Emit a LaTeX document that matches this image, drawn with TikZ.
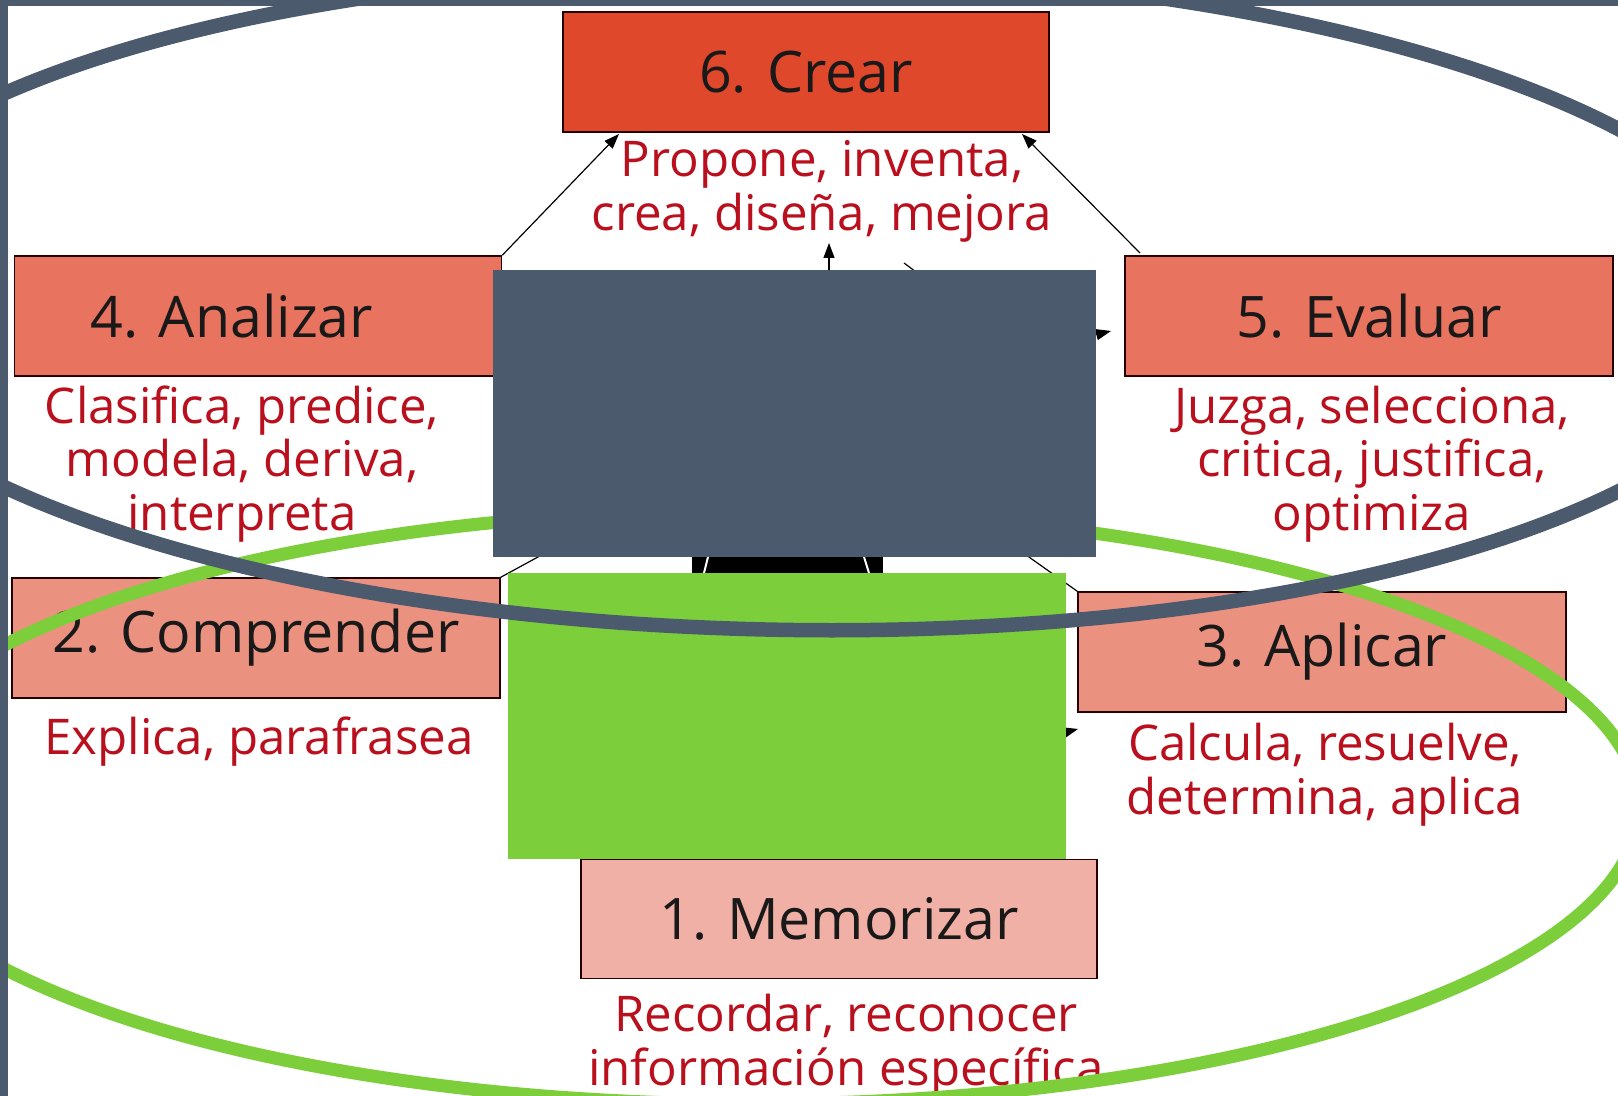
\documentclass[tikz,border=0pt]{standalone}
\usepackage{fontspec}
\setmainfont{Open Sans}
\usetikzlibrary{arrows.meta}

\definecolor{pizarra}{HTML}{4B5A6D}
\definecolor{hoja}{HTML}{7CCF3A}
\definecolor{rojocrear}{HTML}{E0482C}
\definecolor{salmonalto}{HTML}{E8735F}
\definecolor{salmonmedio}{HTML}{EA9180}
\definecolor{rosabajo}{HTML}{F0B0A6}
\definecolor{verbo}{HTML}{BA0F1D}

\tikzset{
  nivel/.style={draw=black!85!red, line width=0.15mm, minimum width=48.7mm,
    minimum height=12mm, inner sep=0pt, text=black!90,
    font=\fontsize{16.3}{19}\selectfont},
  verbos/.style={text=verbo, align=center, inner sep=0pt,
    font=\fontsize{14}{15.3}\selectfont},
  flecha/.style={line width=0.12mm, -{Triangle[length=1.5mm, width=1.1mm]}},
  enlace/.style={line width=0.12mm},
}

\begin{document}
\begin{tikzpicture}[x=0.1mm, y=-0.1mm]
\useasboundingbox (0,0) rectangle (1618,1096);
\clip (0,0) rectangle (1618,1096);
\fill[white] (0,0) rectangle (1618,1096);

% niveles
\node[nivel, fill=rojocrear, minimum width=48.6mm] (crear) at (806,72) {6. Crear};
\node[nivel, fill=salmonalto] (analizar) at (258,316) {\hspace*{-5.2mm}4. Analizar};
\node[nivel, fill=salmonalto, minimum width=48.8mm] (evaluar) at (1369,316) {5. Evaluar};
\node[nivel, fill=salmonmedio, minimum width=48.8mm] (comprender) at (256,638) {2. Comprender};
\node[nivel, fill=salmonmedio, minimum width=48.8mm] (aplicar) at (1322,652) {3. Aplicar};
\node[nivel, fill=rosabajo, minimum width=51.6mm, minimum height=11.9mm] (memorizar) at (839,919) {1. Memorizar};

% verbos de cada nivel
\node[verbos] (vcrear) at (822,191) {Propone, inventa,\\crea, diseña, mejora};
\node[verbos] (vanalizar) at (242,464) {Clasifica, predice,\\modela, deriva,\\interpreta};
\node[verbos] (vevaluar) at (1372,464) {Juzga, selecciona,\\critica, justifica,\\optimiza};
\node[verbos] (vcomprender) at (259,742) {Explica, parafrasea};
\node[verbos] (vaplicar) at (1325,775) {Calcula, resuelve,\\determina, aplica};
\node[verbos] (vmemorizar) at (846,1046) {Recordar, reconocer\\información específica};

% conectores
\coordinate (centro) at (829,400);
\coordinate (centrobajo) at (800,800);
\coordinate (crearizq) at (619,134);
\coordinate (crearder) at (1022,134);
\coordinate (evalarr) at (1140,253);
\draw[flecha] (analizar.north east) -- (crearizq);
\draw[flecha] (evalarr) -- (crearder);
\draw[flecha] (centro) -- (829,243);
\draw[enlace] (904,263) -- (960,305);
\draw[flecha] (centro) -- (1111,331);
\draw[flecha] (centrobajo) -- (1078,729);
\draw[enlace] (560,545) -- (comprender.north east);
\draw[enlace] (1012,545) -- (aplicar.north west);

% barra negra
\fill[black] (692,557) rectangle (883,573);
\draw[white, line width=0.2mm] (708,557) -- (704,573);
\draw[white, line width=0.2mm] (864,557) -- (869,573);

% elipse verde
\draw[hoja, line width=1.3mm] (750,807) ellipse [x radius=889, y radius=297];

% tapas
\fill[pizarra] (493,270) rectangle (1096,557);
\fill[hoja] (508,573) rectangle (1066,859);

% elipse oscura
\draw[pizarra, line width=1.45mm, rotate around={-0.8:(795,300)}]
  (795,300) ellipse [x radius=985, y radius=330];

% marco
\fill[pizarra] (0,0) rectangle (8,1096);
\fill[pizarra] (0,0) rectangle (1618,6);
\end{tikzpicture}
\end{document}
